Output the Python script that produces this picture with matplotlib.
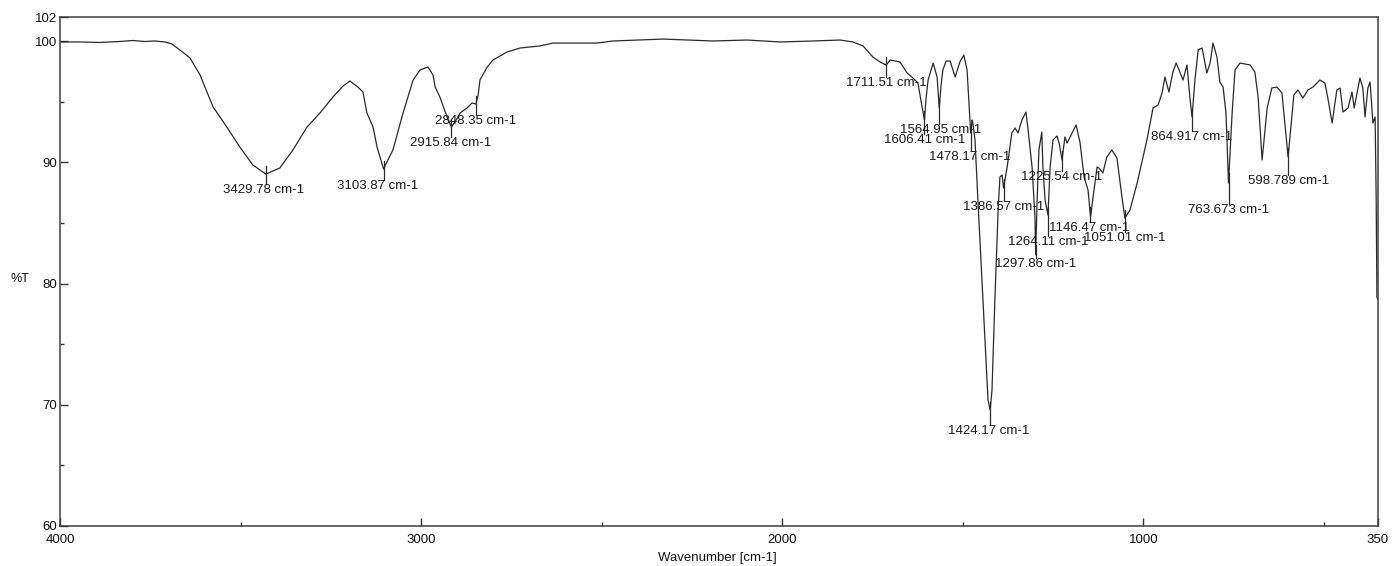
import matplotlib
matplotlib.use('Agg')
import matplotlib.pyplot as plt
import numpy as np

# IR spectrum (wavenumber in cm-1, %T)
wavenumber = [
    4000, 3945, 3889, 3834, 3798, 3765, 3737, 3709, 3690, 3668,
    3640, 3612, 3576, 3538, 3502, 3466, 3430, 3391, 3355, 3316,
    3280, 3244, 3216, 3197, 3175, 3161, 3150, 3133, 3122, 3104,
    3092, 3078, 3050, 3022, 3003, 2981, 2967, 2961, 2948, 2928,
    2916, 2903, 2892, 2873, 2859, 2848, 2842, 2837, 2817, 2801,
    2762, 2726, 2671, 2635, 2560, 2513, 2469, 2330, 2192, 2097,
    2006, 1915, 1840, 1804, 1776, 1749, 1729, 1712, 1701, 1674,
    1654, 1641, 1624, 1616, 1606, 1602, 1596, 1582, 1571, 1565,
    1560, 1555, 1546, 1535, 1521, 1508, 1497, 1488, 1478, 1474,
    1472, 1466, 1458, 1444, 1430, 1424, 1419, 1411, 1402, 1397,
    1391, 1387, 1377, 1364, 1355, 1347, 1336, 1325, 1319, 1308,
    1300, 1298, 1294, 1289, 1281, 1278, 1272, 1264, 1258, 1250,
    1239, 1233, 1225, 1217, 1211, 1197, 1186, 1175, 1164, 1153,
    1146, 1139, 1128, 1123, 1112, 1101, 1087, 1073, 1059, 1051,
    1037, 1017, 990, 973, 959, 948, 940, 929, 918, 909,
    901, 890, 879, 871, 865, 857, 848, 837, 824, 815,
    807, 796, 788, 779, 771, 764, 754, 746, 732, 704,
    691, 682, 671, 657, 644, 630, 616, 599, 592, 583,
    572, 558, 544, 530, 511, 497, 489, 477, 464, 455,
    447, 433, 422, 416, 408, 400, 392, 386, 378, 372,
    367, 364, 358, 355, 353, 351,
]
transmittance = [
    99.94, 99.94, 99.90, 99.98, 100.06, 99.98, 100.02, 99.94, 99.77, 99.28,
    98.62, 97.21, 94.57, 92.92, 91.27, 89.79, 89.04, 89.54, 91.03, 92.92,
    94.08, 95.40, 96.31, 96.72, 96.22, 95.81, 94.08, 92.92, 91.27, 89.46,
    90.20, 91.03, 94.08, 96.80, 97.63, 97.87, 97.21, 96.22, 95.40, 93.75,
    92.92, 93.50, 94.08, 94.49, 94.90, 94.82, 95.56, 96.80, 97.87, 98.45,
    99.11, 99.44, 99.61, 99.85, 99.85, 99.85, 100.02, 100.18, 100.02, 100.10,
    99.94, 100.02, 100.10, 99.94, 99.61, 98.70, 98.29, 98.04, 98.45, 98.29,
    97.38, 97.05, 96.55, 95.15, 93.50, 95.15, 96.80, 98.20, 97.05, 94.49,
    96.39, 97.63, 98.37, 98.37, 97.05, 98.29, 98.86, 97.63, 92.43, 93.50,
    93.25, 91.85, 86.90, 78.65, 70.40, 69.57, 71.22, 78.65, 86.07, 88.80,
    88.96, 87.89, 89.62, 92.43, 92.84, 92.43, 93.50, 94.16, 92.68, 89.62,
    85.50, 82.36, 86.90, 91.03, 92.51, 89.62, 86.90, 85.66, 89.62, 91.85,
    92.18, 91.60, 90.20, 92.10, 91.60, 92.43, 93.09, 91.60, 88.80, 87.72,
    85.50, 87.15, 89.62, 89.54, 89.13, 90.45, 91.03, 90.37, 87.15, 85.41,
    86.07, 88.30, 91.85, 94.49, 94.74, 95.73, 97.05, 95.81, 97.46, 98.20,
    97.63, 96.80, 98.04, 95.40, 93.75, 96.80, 99.28, 99.44, 97.38, 98.20,
    99.85, 98.70, 96.64, 96.22, 94.08, 88.30, 94.08, 97.63, 98.20, 98.04,
    97.46, 95.40, 90.20, 94.49, 96.14, 96.22, 95.73, 90.45, 92.68, 95.56,
    95.98, 95.32, 95.98, 96.22, 96.80, 96.55, 95.32, 93.25, 95.98, 96.14,
    94.16, 94.49, 95.81, 94.49, 95.73, 96.97, 96.14, 93.75, 96.14, 96.64,
    94.57, 93.25, 93.75, 86.90, 78.90, 78.70,
]
assert len(wavenumber) == len(transmittance)

# picked peaks
peak_wn = [3429.78, 3103.87, 2915.84, 2848.35, 1711.51, 1606.41, 1564.95,
           1478.17, 1424.17, 1386.57, 1297.86, 1264.11, 1225.54, 1146.47,
           1051.01, 864.917, 763.673, 598.789]
peak_text = ['3429.78 cm-1', '3103.87 cm-1', '2915.84 cm-1', '2848.35 cm-1',
             '1711.51 cm-1', '1606.41 cm-1', '1564.95 cm-1', '1478.17 cm-1',
             '1424.17 cm-1', '1386.57 cm-1', '1297.86 cm-1', '1264.11 cm-1',
             '1225.54 cm-1', '1146.47 cm-1', '1051.01 cm-1', '864.917 cm-1',
             '763.673 cm-1', '598.789 cm-1']

# label placement (pixels below / beside the peak)
label_drop = [16, 17, 16, 17, 18, 21, 22, 25, 21, 20, 11, 27, 18, 13, 20, 20, 29, 25]
label_shift = [-2, -6, -1, 0, 0, 0, 1, -1, -1, 0, 0, 0, 0, -1, 0, 0, 0, 0]

line_color = '#2a2a2a'
plt.rcParams['font.family'] = ['Liberation Sans', 'DejaVu Sans']

fig = plt.figure(figsize=(13.93, 5.66), dpi=100)
ax = fig.add_axes([60 / 1393, 1 - 526 / 566, 1318 / 1393, 509 / 566])

ax.plot(wavenumber, transmittance, color=line_color, lw=0.9)

ax.set_xlim(4000, 350)
ax.set_ylim(60, 102)
ax.set_xticks([4000, 3000, 2000, 1000, 350])
ax.set_xticks([3500, 2500, 1500, 500], minor=True)
ax.set_yticks([60, 70, 80, 90, 100, 102])
ax.set_yticks([65, 75, 85, 95], minor=True)
ax.tick_params(which='both', direction='in', colors='#333333', labelsize=9.5,
               labelcolor='#111111')
ax.tick_params(which='major', length=6, width=1)
ax.tick_params(which='minor', length=3, width=1)
ax.tick_params(axis='x', pad=6)
ax.tick_params(axis='y', pad=2)
for sp in ax.spines.values():
    sp.set_color('#404040')
    sp.set_linewidth(1.1)

ax.set_xlabel('Wavenumber [cm-1]', fontsize=9.5, color='#111111', va='center')
ax.xaxis.set_label_coords(0.4985, -0.063)
ax.set_ylabel('%T', fontsize=9, rotation=0, color='#111111', ha='center', va='center')
ax.yaxis.set_label_coords(-0.0303, 0.485)

# peak markers and labels
wn_asc = np.array(wavenumber[::-1], dtype=float)
t_asc = np.array(transmittance[::-1], dtype=float)
dy = 42 / 509.0
for wn, txt, drop, shift in zip(peak_wn, peak_text, label_drop, label_shift):
    t = np.interp(wn, wn_asc, t_asc)
    ax.plot([wn, wn], [t + 8 * dy, t - (drop - 6) * dy], color=line_color, lw=0.9)
    ax.annotate(txt, (wn, t), xytext=(shift, -drop), textcoords='offset pixels',
                ha='center', va='center', fontsize=9.5, color='#1a1a1a')

fig.savefig('out.png', dpi=100)
